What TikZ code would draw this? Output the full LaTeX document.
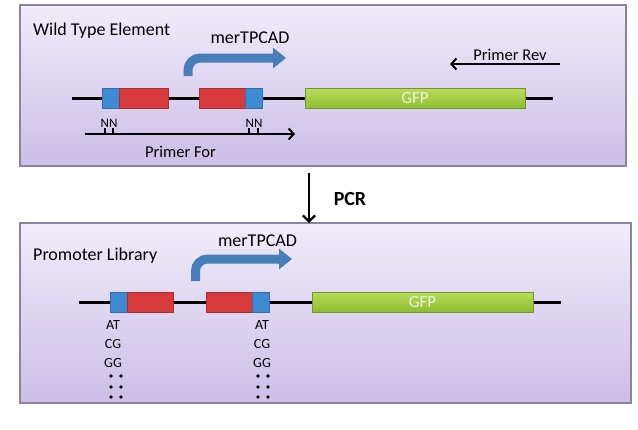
\documentclass[tikz,border=0pt]{standalone}
\usepackage{fontspec}
\setmainfont{Carlito}
\usetikzlibrary{arrows.meta,positioning}

\definecolor{panelTop}{RGB}{241,236,250}
\definecolor{panelBot}{RGB}{204,190,232}
\definecolor{panelEdge}{RGB}{140,130,165}
\definecolor{siteBlue}{RGB}{62,138,212}
\definecolor{siteRed}{RGB}{214,58,58}
\definecolor{gfpTop}{RGB}{184,218,92}
\definecolor{gfpBot}{RGB}{140,190,48}
\definecolor{gfpText}{RGB}{236,244,222}
\definecolor{bentBlue}{RGB}{72,126,186}

\begin{document}
\begin{tikzpicture}[x=1pt, y=-1pt,
    panel/.style={rectangle, draw=panelEdge, line width=1.2pt, top color=panelTop, bottom color=panelBot, inner sep=0pt, outer sep=0pt},
    dna/.style={line width=3pt},
    bluebox/.style={rectangle, draw=siteBlue!80!black, line width=0.5pt, fill=siteBlue, minimum width=17pt, minimum height=20pt, inner sep=0pt, outer sep=0pt},
    redbox/.style={rectangle, draw=siteRed!80!black, line width=0.5pt, fill=siteRed, minimum height=20pt, inner sep=0pt, outer sep=0pt},
    gfpbox/.style={rectangle, draw=gfpBot!80!black, line width=0.5pt, top color=gfpTop, bottom color=gfpBot, minimum width=220pt, minimum height=20pt, inner sep=0pt, text=gfpText, font=\fontsize{17}{20}\selectfont},
    bentarrow/.style={line width=9pt, draw=bentBlue, rounded corners=12pt, -{Triangle[length=13pt, width=20pt]}},
    primer/.style={line width=2pt, -{Straight Barb[length=5pt, width=11pt]}},
    pcrarrow/.style={line width=2.2pt, -{Straight Barb[length=6pt, width=12pt]}},
    title/.style={font=\fontsize{18}{21}\selectfont, anchor=base west, inner sep=0pt},
    gene/.style={font=\fontsize{18}{21}\selectfont, anchor=base, inner sep=0pt},
    primerlabel/.style={font=\fontsize{16.5}{20}\selectfont, anchor=base, inner sep=0pt},
    site/.style={font=\fontsize{13}{15}\selectfont, anchor=base, inner sep=0pt},
    variant/.style={font=\fontsize{14}{16}\selectfont, anchor=base, inner sep=0pt},
]
    \useasboundingbox (0,0) rectangle (638,429);

    % Wild type panel (top)
    \node[panel, minimum width=606pt, minimum height=161pt] (wt) at (323,85.5) {};
    \node[title] (wtlabel) at (33,35) {Wild Type Element};

    \coordinate (wl) at (72,98.5);
    \coordinate (wr) at (553,98.5);
    \draw[dna] (wl) -- (wr);

    \node[bluebox] (wtb1) at (110.5,98.5) {};
    \node[redbox, minimum width=49pt, right=0pt of wtb1] (wtr1) {};
    \node[redbox, minimum width=46pt] (wtr2) at (222,98.5) {};
    \node[bluebox, right=0pt of wtr2] (wtb2) {};
    \node[gfpbox] (wtgfp) at (415,98.5) {GFP};

    % promoter arrow
    \node[gene] (wtgene) at (250,43) {merTPCAD};
    \coordinate (wtstem) at (188,76);
    \coordinate (wttip) at (286,58);
    \draw[bentarrow] (wtstem) |- (wttip);

    % primers
    \node[primerlabel] (revlabel) at (510,60) {Primer Rev};
    \coordinate (revstart) at (560,64);
    \coordinate (revend) at (450,64);
    \draw[primer] (revstart) -- (revend);

    \node[site] (nn1) at (109,127) {NN};
    \node[site] (nn2) at (254,127) {NN};
    \draw[line width=1.2pt] (105,128) -- (105,134) (113,128) -- (113,134)
                            (249,128) -- (249,134) (258,128) -- (258,134);
    \coordinate (forstart) at (85,134);
    \coordinate (forend) at (295,134);
    \draw[primer] (forstart) -- (forend);
    \node[primerlabel] (forlabel) at (180.5,157) {Primer For};

    % PCR step
    \node[panel, minimum width=611pt, minimum height=180pt] (lib) at (325.5,313) {};
    \coordinate (pcrtop) at (309,173);
    \draw[pcrarrow] (pcrtop) -- (lib.north -| pcrtop);
    \node[font=\fontsize{20}{24}\selectfont\bfseries, anchor=base, inner sep=0pt] (pcr) at (350,205) {PCR};

    % Promoter library panel (bottom)
    \node[title] (liblabel) at (33,260) {Promoter Library};

    \coordinate (ll) at (79,302);
    \coordinate (lr) at (561,302);
    \draw[dna] (ll) -- (lr);

    \node[bluebox] (libb1) at (118.5,302) {};
    \node[redbox, minimum width=46pt, right=0pt of libb1] (libr1) {};
    \node[redbox, minimum width=46pt] (libr2) at (229,302) {};
    \node[bluebox, right=0pt of libr2] (libb2) {};
    \node[gfpbox, minimum width=221pt] (libgfp) at (422.5,302) {GFP};

    \node[gene] (libgene) at (257.5,246) {merTPCAD};
    \coordinate (libstem) at (195.5,281);
    \coordinate (libtip) at (292,259);
    \draw[bentarrow] (libstem) |- (libtip);

    % variants at the two sites
    \node[variant] (at1) at (113,329) {AT};
    \node[variant] (cg1) at (113,348) {CG};
    \node[variant] (gg1) at (113,367) {GG};
    \node[variant] (at2) at (262,329) {AT};
    \node[variant] (cg2) at (262,348) {CG};
    \node[variant] (gg2) at (262,367) {GG};
    \foreach \dx in {111,121,258,268}
        \foreach \dy in {376,387,397}
            \fill (\dx,\dy) circle (1.9pt);
\end{tikzpicture}
\end{document}
